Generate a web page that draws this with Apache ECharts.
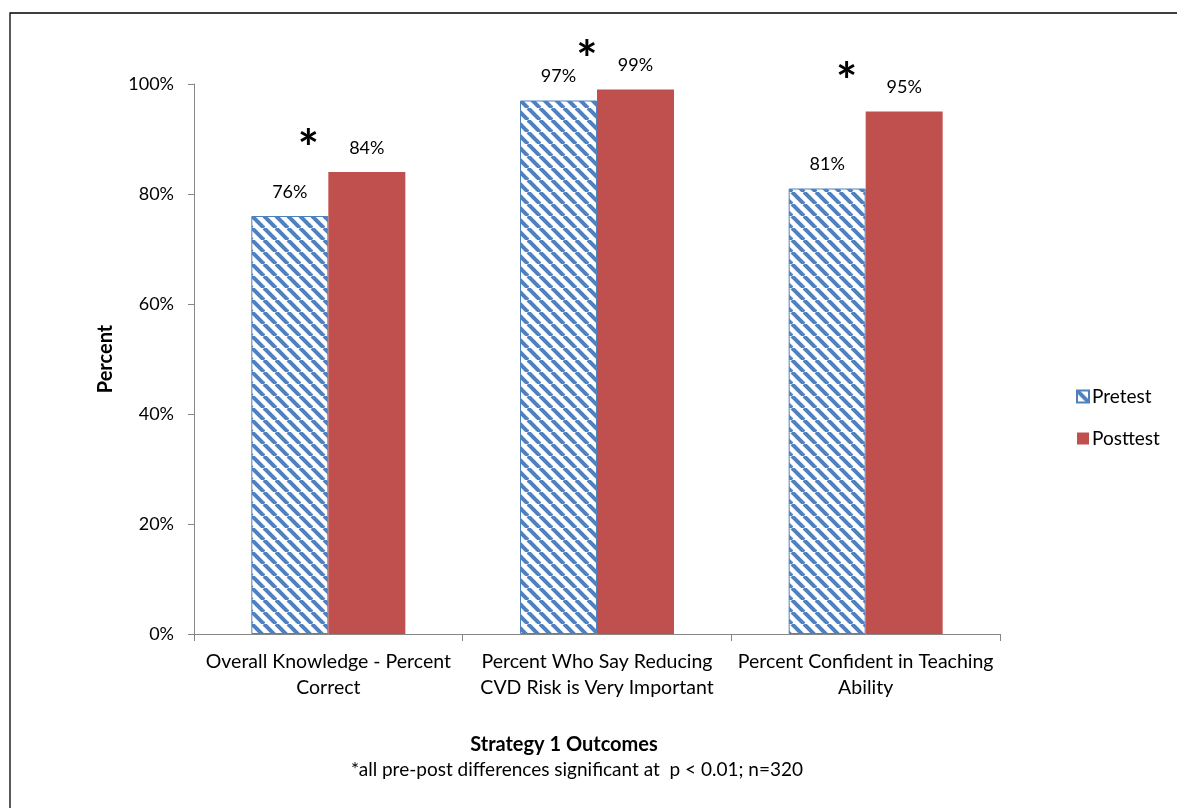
<!DOCTYPE html>
<html>
<head>
<meta charset="utf-8">
<script src="https://cdn.jsdelivr.net/npm/echarts@6/dist/echarts.min.js"></script>
<style>
  html, body { margin: 0; padding: 0; background: #fff; }
  #chart { width: 1177px; height: 808px; }
</style>
</head>
<body>
<div id="chart"></div>
<script>
// Outcome categories (line breaks as shown under the axis)
const categories = [
  'Overall Knowledge - Percent\nCorrect',
  'Percent Who Say Reducing\nCVD Risk is Very Important',
  'Percent Confident in Teaching\nAbility'
];
// Percent values before and after the intervention
const pretest = [76, 97, 81];
const posttest = [84, 99, 95];
// Which pre-post differences get a significance star
const significant = [true, true, true];

const FONT = 'Lato, "Open Sans", sans-serif';
const BLUE = '#4F81BD';
const RED = '#C0504D';

// Diagonal hatch tile for the pretest bars
function hatchTile() {
  const size = 12;
  const c = document.createElement('canvas');
  c.width = size; c.height = size;
  const g = c.getContext('2d');
  g.fillStyle = '#fff';
  g.fillRect(0, 0, size, size);
  g.strokeStyle = BLUE;
  g.lineWidth = 4;
  for (const x0 of [-size, 0, size]) {
    g.beginPath();
    g.moveTo(x0, 0);
    g.lineTo(x0 + size, size);
    g.stroke();
  }
  return c;
}
const hatch = { image: hatchTile(), repeat: 'repeat' };

const chart = echarts.init(document.getElementById('chart'), null, { renderer: 'canvas' });

const labelStyle = {
  show: true,
  position: 'top',
  distance: 15,
  formatter: '{c}%',
  fontFamily: FONT,
  fontSize: 18,
  color: '#000'
};

chart.setOption({
  animation: false,
  backgroundColor: '#fff',
  textStyle: { fontFamily: FONT },
  grid: { left: 194, right: 177, top: 84, bottom: 174, containLabel: false },
  legend: {
    orient: 'vertical',
    left: 1071,
    top: 382,
    itemGap: 23,
    itemWidth: 12,
    itemHeight: 12,
    icon: 'rect',
    textStyle: { fontFamily: FONT, fontSize: 19, color: '#000', padding: [0, 0, 0, -2] },
    data: ['Pretest', 'Posttest']
  },
  xAxis: {
    type: 'category',
    data: categories,
    axisLine: { lineStyle: { color: '#868686', width: 1 } },
    axisTick: { show: true, length: 7, lineStyle: { color: '#868686' }, alignWithLabel: false },
    axisLabel: {
      margin: 15,
      fontFamily: FONT,
      fontSize: 19.5,
      lineHeight: 26,
      color: '#000',
      interval: 0
    }
  },
  yAxis: {
    type: 'value',
    min: 0,
    max: 100,
    interval: 20,
    name: 'Percent',
    nameLocation: 'middle',
    nameGap: 78,
    nameTextStyle: { fontFamily: FONT, fontSize: 20, fontWeight: 'bold', color: '#000' },
    axisLine: { show: true, lineStyle: { color: '#868686', width: 1 } },
    axisTick: { show: true, length: 6, lineStyle: { color: '#868686' } },
    splitLine: { show: false },
    axisLabel: {
      margin: 20,
      fontFamily: FONT,
      fontSize: 18,
      color: '#000',
      formatter: '{value}%'
    }
  },
  series: [
    {
      name: 'Pretest',
      type: 'bar',
      data: pretest,
      barWidth: 77,
      barGap: '0%',
      itemStyle: { color: hatch, borderColor: BLUE, borderWidth: 1 },
      label: labelStyle
    },
    {
      name: 'Posttest',
      type: 'bar',
      data: posttest,
      barWidth: 77,
      barGap: '0%',
      itemStyle: { color: RED },
      label: labelStyle
    }
  ]
});

// Star offsets from each posttest bar top / category centre
const starShift = [[-20, -22], [-10, -29], [-19, -29]];
const stars = [];
posttest.forEach((v, i) => {
  if (!significant[i]) return;
  const p = chart.convertToPixel({ gridIndex: 0 }, [i, v]);
  stars.push({
    type: 'text',
    x: p[0] + starShift[i][0],
    y: p[1] + starShift[i][1],
    style: {
      text: '*',
      font: 'bold 50px ' + FONT,
      fill: '#000',
      textAlign: 'center',
      textVerticalAlign: 'middle'
    }
  });
});

chart.setOption({
  graphic: [
    // chart frame
    {
      type: 'rect',
      shape: { x: 10, y: 13, width: 1400, height: 1000 },
      style: { fill: null, stroke: '#000', lineWidth: 1.3 },
      silent: true
    },
    {
      type: 'text',
      x: 564,
      y: 745,
      style: {
        text: 'Strategy 1 Outcomes',
        font: 'bold 20px ' + FONT,
        fill: '#000',
        textAlign: 'center',
        textVerticalAlign: 'middle'
      }
    },
    {
      type: 'text',
      x: 577,
      y: 770,
      style: {
        text: '*all pre-post differences significant at  p < 0.01; n=320',
        font: '19px ' + FONT,
        fill: '#000',
        textAlign: 'center',
        textVerticalAlign: 'middle'
      }
    }
  ].concat(stars)
});
</script>
</body>
</html>
